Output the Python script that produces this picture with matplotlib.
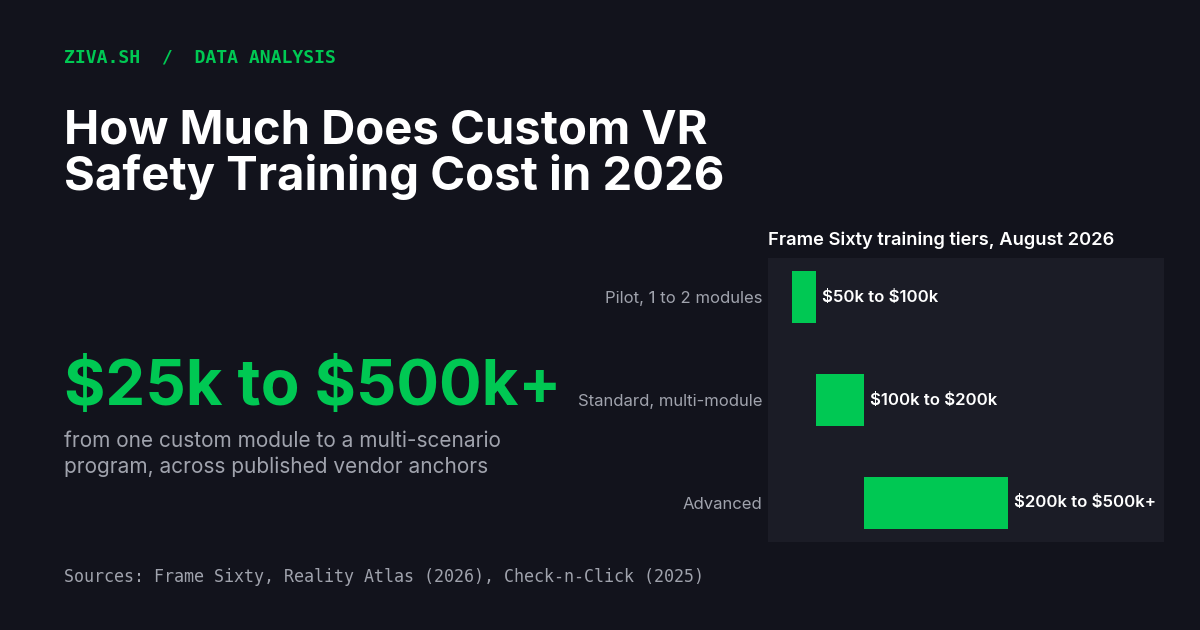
import matplotlib.pyplot as plt

plt.rcParams['text.parse_math'] = False

# Tier data (thousands of USD)
tiers = ['Pilot, 1 to 2 modules', 'Standard, multi-module', 'Advanced']
low_k = [50, 100, 200]
high_k = [100, 200, 500]
range_labels = ['$50k to $100k', '$100k to $200k', '$200k to $500k+']

BG = '#12131c'
PANEL = '#1b1c26'
GREEN = '#00c853'
GREY = '#a0a3ad'
SANS = ['Inter', 'DejaVu Sans']
MONO = ['DejaVu Sans Mono']

fig = plt.figure(figsize=(12, 6.3), dpi=100)
fig.patch.set_facecolor(BG)

W, H = 1200, 630


def fx(px):
    return px / W


def fy(py):
    return 1 - py / H


# Header text
fig.text(fx(64), fy(58), 'ZIVA.SH  /  DATA ANALYSIS', color=GREEN, family=MONO,
         fontsize=13.1, fontweight='bold', va='center')
fig.text(fx(64), fy(144), 'How Much Does Custom VR', color='white', family=SANS,
         fontsize=34, fontweight='bold', va='baseline')
fig.text(fx(64), fy(190), 'Safety Training Cost in 2026', color='white', family=SANS,
         fontsize=34, fontweight='bold', va='baseline')

# Headline number
fig.text(fx(64), fy(405), '$25k to $500k+', color=GREEN, family=SANS,
         fontsize=45.6, fontweight='bold', va='baseline')
fig.text(fx(64), fy(447), 'from one custom module to a multi-scenario', color=GREY,
         family=SANS, fontsize=15, va='baseline')
fig.text(fx(64), fy(473), 'program, across published vendor anchors', color=GREY,
         family=SANS, fontsize=15, va='baseline')

fig.text(fx(64), fy(582), 'Sources: Frame Sixty, Reality Atlas (2026), Check-n-Click (2025)',
         color=GREY, family=MONO, fontsize=12, va='baseline')

# Bar panel
ax = fig.add_axes([fx(768), fy(542), (1164 - 768) / W, (542 - 258) / H])
ax.set_facecolor(PANEL)
y = list(range(len(tiers)))
widths = [h - l for l, h in zip(low_k, high_k)]
ax.barh(y, widths, left=low_k, height=0.5, color=GREEN)
for yi, hi, lab in zip(y, high_k, range_labels):
    ax.text(hi + 12, yi, lab, color='white', family=SANS, fontsize=12.1,
            fontweight='semibold', va='center', ha='left')
ax.set_xlim(0, 825)
ax.set_ylim(2.38, -0.38)
ax.set_yticks(y)
ax.set_yticklabels(tiers, color=GREY, family=SANS, fontsize=12)
ax.tick_params(axis='y', length=0, pad=4)
ax.set_xticks([])
for s in ax.spines.values():
    s.set_visible(False)

fig.text(fx(768), fy(245), 'Frame Sixty training tiers, August 2026', color='white',
         family=SANS, fontsize=13.2, fontweight='semibold', va='baseline')

fig.savefig('out.png', dpi=100, facecolor=BG)
